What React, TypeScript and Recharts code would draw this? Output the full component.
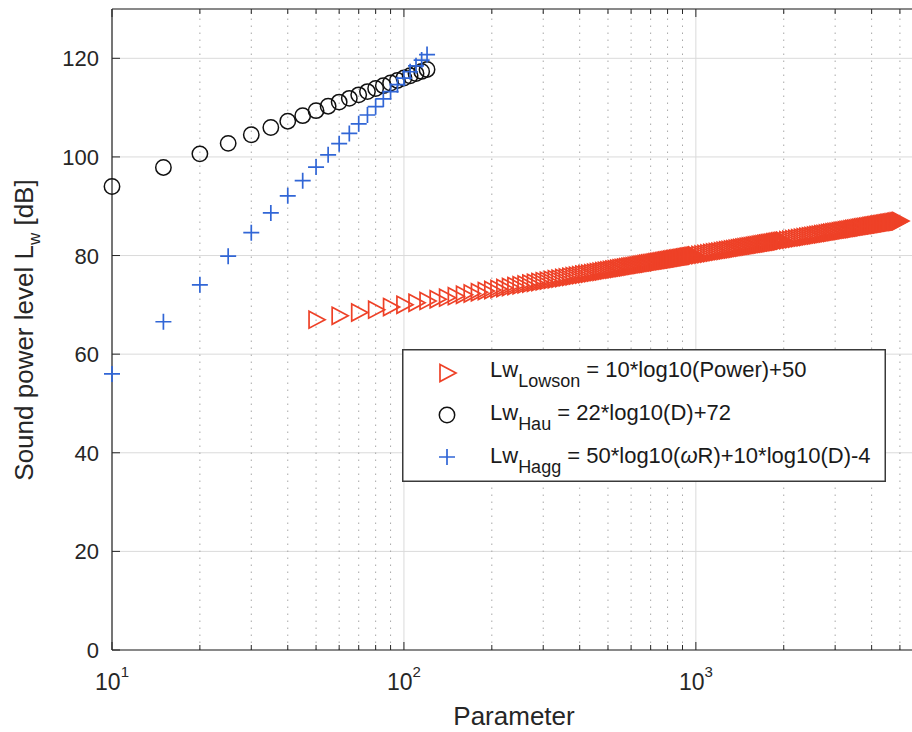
import React from 'react';
import { ScatterChart, Scatter, XAxis, YAxis, CartesianGrid, ReferenceLine } from 'recharts';

const FONT = '"Liberation Sans", Arial, Helvetica, sans-serif';
const AXIS_COLOR = '#262626';
const RED = '#ee4127';
const BLUE = '#3166d6';

// rotor diameter D, shared by the Hau and Hagg curves
const rotorD = [10, 15, 20, 25, 30, 35, 40, 45, 50, 55, 60, 65, 70, 75, 80, 85, 90, 95, 100, 105, 110, 115, 120];
const hauLw = [
  94.0, 97.87, 100.62, 102.75, 104.5, 105.97, 107.25, 108.37, 109.38, 110.29, 111.12, 111.88,
  112.59, 113.25, 113.87, 114.45, 114.99, 115.51, 116.0, 116.47, 116.91, 117.34, 117.74,
];
const haggLw = [
  56.0, 66.57, 74.06, 79.88, 84.63, 88.64, 92.12, 95.19, 97.94, 100.42, 102.69, 104.77,
  106.71, 108.5, 110.19, 111.77, 113.25, 114.66, 116.0, 117.27, 118.48, 119.64, 120.75,
];

// Lowson: power values and read-off sound power levels
const lowsonPower = [
  50, 60, 70, 80, 90, 100, 110, 120, 130, 140,
  150, 160, 170, 180, 190, 200, 210, 220, 230, 240,
  250, 260, 270, 280, 290, 300, 310, 320, 330, 340,
  350, 360, 370, 380, 390, 400, 410, 420, 430, 440,
  450, 460, 470, 480, 490, 500, 510, 520, 530, 540,
  550, 560, 570, 580, 590, 600, 610, 620, 630, 640,
  650, 660, 670, 680, 690, 700, 710, 720, 730, 740,
  750, 760, 770, 780, 790, 800, 810, 820, 830, 840,
  850, 860, 870, 880, 890, 900, 910, 920, 930, 940,
  950, 960, 970, 980, 990, 1000,
  1025, 1050, 1075, 1100, 1125, 1150, 1175, 1200, 1225, 1250,
  1275, 1300, 1325, 1350, 1375, 1400, 1425, 1450, 1475, 1500,
  1525, 1550, 1575, 1600, 1625, 1650, 1675, 1700, 1725, 1750,
  1775, 1800, 1825, 1850, 1875, 1900, 1925, 1950, 1975, 2000,
  2050, 2100, 2150, 2200, 2250, 2300, 2350, 2400, 2450, 2500,
  2550, 2600, 2650, 2700, 2750, 2800, 2850, 2900, 2950, 3000,
  3050, 3100, 3150, 3200, 3250, 3300, 3350, 3400, 3450, 3500,
  3550, 3600, 3650, 3700, 3750, 3800, 3850, 3900, 3950, 4000,
  4050, 4100, 4150, 4200, 4250, 4300, 4350, 4400, 4450, 4500,
  4550, 4600, 4650, 4700, 4750, 4800, 4850, 4900, 4950, 5000,
];
const lowsonLw = [
  66.99, 67.78, 68.45, 69.03, 69.54, 70.0, 70.41, 70.79, 71.14, 71.46,
  71.76, 72.04, 72.3, 72.55, 72.79, 73.01, 73.22, 73.42, 73.62, 73.8,
  73.98, 74.15, 74.31, 74.47, 74.62, 74.77, 74.91, 75.05, 75.19, 75.31,
  75.44, 75.56, 75.68, 75.8, 75.91, 76.02, 76.13, 76.23, 76.33, 76.43,
  76.53, 76.63, 76.72, 76.81, 76.9, 76.99, 77.08, 77.16, 77.24, 77.32,
  77.4, 77.48, 77.56, 77.63, 77.71, 77.78, 77.85, 77.92, 77.99, 78.06,
  78.13, 78.2, 78.26, 78.33, 78.39, 78.45, 78.51, 78.57, 78.63, 78.69,
  78.75, 78.81, 78.86, 78.92, 78.98, 79.03, 79.08, 79.14, 79.19, 79.24,
  79.29, 79.35, 79.4, 79.44, 79.49, 79.54, 79.59, 79.64, 79.68, 79.73,
  79.78, 79.82, 79.87, 79.91, 79.96, 80.0,
  80.11, 80.21, 80.31, 80.41, 80.51, 80.61, 80.7, 80.79, 80.88, 80.97,
  81.06, 81.14, 81.22, 81.3, 81.38, 81.46, 81.54, 81.61, 81.69, 81.76,
  81.83, 81.9, 81.97, 82.04, 82.11, 82.17, 82.24, 82.3, 82.37, 82.43,
  82.49, 82.55, 82.61, 82.67, 82.73, 82.79, 82.84, 82.9, 82.96, 83.01,
  83.12, 83.22, 83.32, 83.42, 83.52, 83.62, 83.71, 83.8, 83.89, 83.98,
  84.07, 84.15, 84.23, 84.31, 84.39, 84.47, 84.55, 84.62, 84.7, 84.77,
  84.84, 84.91, 84.98, 85.05, 85.12, 85.19, 85.25, 85.31, 85.38, 85.44,
  85.5, 85.56, 85.62, 85.68, 85.74, 85.8, 85.85, 85.91, 85.97, 86.02,
  86.07, 86.13, 86.18, 86.23, 86.28, 86.33, 86.38, 86.43, 86.48, 86.53,
  86.58, 86.63, 86.67, 86.72, 86.77, 86.81, 86.86, 86.9, 86.95, 86.99,
];

const xMajorTicks = [10, 100, 1000];
const xMajorExp = ['1', '2', '3'];
const xMinorTicks = [20, 30, 40, 50, 60, 70, 80, 90, 200, 300, 400, 500, 600, 700, 800, 900, 2000, 3000, 4000, 5000];
const yTicks = [0, 20, 40, 60, 80, 100, 120];
const xDomain = [10, 5500];
const yDomain = [0, 130];

const allXTicks = [...xMajorTicks, ...xMinorTicks].sort((a, b) => a - b);
const toPoints = (xs: number[], ys: number[]) => xs.map((x, i) => ({ x, y: ys[i] }));

const lowsonData = toPoints(lowsonPower, lowsonLw);
const hauData = toPoints(rotorD, hauLw);
const haggData = toPoints(rotorD, haggLw);

const triPath = (cx: number, cy: number) => `M${cx - 7},${cy - 8.5}L${cx + 9},${cy}L${cx - 7},${cy + 8.5}Z`;

const TriangleMarker = (props: any) => (
  <path d={triPath(props.cx, props.cy)} fill="none" stroke={RED} strokeWidth={1.7} />
);
const CircleMarker = (props: any) => (
  <circle cx={props.cx} cy={props.cy} r={7.7} fill="none" stroke="#111" strokeWidth={1.5} />
);
const CrossMarker = (props: any) => (
  <path
    d={`M${props.cx - 8},${props.cy}H${props.cx + 8}M${props.cx},${props.cy - 8}V${props.cy + 8}`}
    stroke={BLUE}
    strokeWidth={1.7}
    fill="none"
  />
);

const BottomTick = (props: any) => {
  const { x, y, payload } = props;
  const idx = xMajorTicks.indexOf(payload.value);
  return (
    <g>
      <line x1={x} x2={x} y1={y} y2={y - (idx >= 0 ? 8 : 5)} stroke={AXIS_COLOR} />
      {idx >= 0 && (
        <text x={x} y={y + 40} textAnchor="middle" fontSize={23} fill={AXIS_COLOR} fontFamily={FONT}>
          10
          <tspan dy={-13} fontSize={15}>
            {xMajorExp[idx]}
          </tspan>
        </text>
      )}
    </g>
  );
};

const TopTick = (props: any) => {
  const { x, y, payload } = props;
  const major = xMajorTicks.includes(payload.value);
  return <line x1={x} x2={x} y1={y} y2={y + (major ? 8 : 5)} stroke={AXIS_COLOR} />;
};

const LeftTick = (props: any) => {
  const { x, y, payload } = props;
  return (
    <g>
      <line x1={x} x2={x + 8} y1={y} y2={y} stroke={AXIS_COLOR} />
      <text x={x - 13} y={y + 8} textAnchor="end" fontSize={22} fill={AXIS_COLOR} fontFamily={FONT}>
        {payload.value}
      </text>
    </g>
  );
};

const XTitle = () => (
  <text x={514} y={725} textAnchor="middle" fontSize={26} fill={AXIS_COLOR} fontFamily={FONT}>
    Parameter
  </text>
);

const YTitle = () => (
  <text x={33} y={330} transform="rotate(-90 33 330)" textAnchor="middle" fontSize={26} fill={AXIS_COLOR} fontFamily={FONT}>
    Sound power level L
    <tspan dy={7} fontSize={17}>
      w
    </tspan>
    <tspan dy={-7}> [dB]</tspan>
  </text>
);

const LegendBox = () => (
  <div style={{ position: 'absolute', left: 402, top: 349 }}>
    <svg width={484} height={133} style={{ display: 'block' }}>
      <rect x={0.75} y={0.75} width={482.5} height={131.5} fill="#fff" stroke="#3a3a3a" strokeWidth={1.5} />
      <path d={triPath(45, 24)} fill="none" stroke={RED} strokeWidth={1.7} />
      <circle cx={45} cy={66} r={7.7} fill="none" stroke="#111" strokeWidth={1.5} />
      <path d="M37,108H53M45,100V116" stroke={BLUE} strokeWidth={1.7} />
      <g fontFamily={FONT} fontSize={22} fill="#1a1a1a">
        <text x={88} y={28}>
          Lw<tspan dy={10} fontSize={18}>Lowson</tspan>
          <tspan dy={-10}> = 10*log10(Power)+50</tspan>
        </text>
        <text x={88} y={71}>
          Lw<tspan dy={10} fontSize={18}>Hau</tspan>
          <tspan dy={-10}> = 22*log10(D)+72</tspan>
        </text>
        <text x={88} y={114}>
          Lw<tspan dy={10} fontSize={18}>Hagg</tspan>
          <tspan dy={-10}> = 50*log10(</tspan>
          <tspan fontStyle="italic">ω</tspan>
          <tspan>R)+10*log10(D)-4</tspan>
        </text>
      </g>
    </svg>
  </div>
);

export default function App() {
  return (
    <div style={{ position: 'absolute', left: 0, top: 0, width: 912, height: 732, background: '#fff', overflow: 'hidden' }}>
      <ScatterChart width={912} height={732} margin={{ top: 0, right: 0, bottom: 0, left: 0 }}>
        <CartesianGrid vertical={false} stroke="#dadada" />
        {xMajorTicks.map((v) => (
          <ReferenceLine key={`M${v}`} x={v} stroke="#dadada" />
        ))}
        {xMinorTicks.map((v) => (
          <ReferenceLine key={`m${v}`} x={v} stroke="#a8a8a8" strokeDasharray="1.5 5.5" />
        ))}
        <XAxis
          dataKey="x"
          type="number"
          scale="log"
          domain={xDomain}
          ticks={allXTicks}
          interval={0}
          height={82}
          tickSize={0}
          tickMargin={0}
          tickLine={false}
          axisLine={{ stroke: AXIS_COLOR, strokeWidth: 1.2 }}
          tick={<BottomTick />}
          label={<XTitle />}
        />
        <XAxis
          xAxisId="top"
          orientation="top"
          dataKey="x"
          type="number"
          scale="log"
          domain={xDomain}
          allowDataOverflow
          ticks={allXTicks}
          interval={0}
          height={9}
          tickSize={0}
          tickMargin={0}
          tickLine={false}
          axisLine={{ stroke: AXIS_COLOR, strokeWidth: 1.2 }}
          tick={<TopTick />}
        />
        <YAxis
          dataKey="y"
          type="number"
          domain={yDomain}
          ticks={yTicks}
          interval={0}
          width={112}
          tickSize={0}
          tickMargin={0}
          tickLine={false}
          axisLine={{ stroke: AXIS_COLOR, strokeWidth: 1.2 }}
          tick={<LeftTick />}
          label={<YTitle />}
        />
        <Scatter data={lowsonData} shape={<TriangleMarker />} isAnimationActive={false} />
        <Scatter data={hauData} shape={<CircleMarker />} isAnimationActive={false} />
        <Scatter data={haggData} shape={<CrossMarker />} isAnimationActive={false} />
      </ScatterChart>
      <LegendBox />
    </div>
  );
}
